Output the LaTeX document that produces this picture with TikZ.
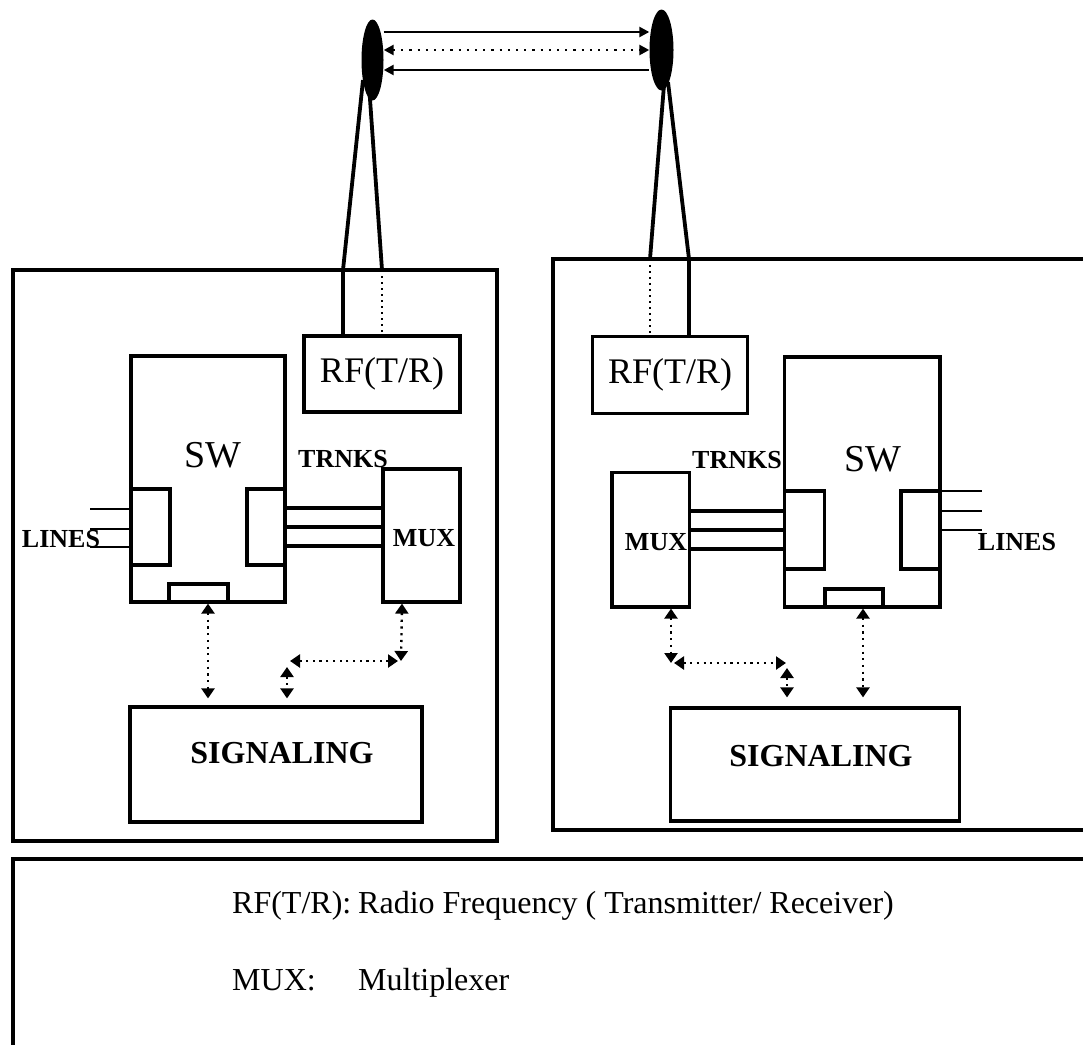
\documentclass[tikz,border=0pt]{standalone}
\usepackage{fontspec}
\setmainfont{Liberation Serif}
\usetikzlibrary{shapes.geometric,arrows.meta}
\begin{document}
\begin{tikzpicture}[x=1pt,y=-1pt,
  frame/.style={draw, line width=3.2pt, inner sep=0pt},
  blk/.style={draw, line width=3.2pt, inner sep=0pt},
  ant/.style={ellipse, fill=black, draw=none, inner sep=0pt},
  leg/.style={line width=3.8pt},
  feed/.style={line width=4.8pt},
  feeddot/.style={line width=2.2pt, dash pattern=on 2pt off 4pt},
  trunk/.style={line width=4.8pt},
  wire/.style={line width=2.8pt},
  link/.style={line width=2.4pt},
  linkdot/.style={line width=2.6pt, dash pattern=on 2.2pt off 6pt},
  sig/.style={line width=2.4pt, dash pattern=on 2.2pt off 4.5pt,
    {Triangle[length=10pt,width=13pt]}-{Triangle[length=10pt,width=13pt]}},
  rftxt/.style={font=\fontsize{36}{40}\selectfont},
  swtxt/.style={font=\fontsize{38}{42}\selectfont, inner sep=0pt},
  captxt/.style={font=\fontsize{26}{28}\selectfont\bfseries, inner sep=0pt},
  sigtxt/.style={font=\fontsize{32}{36}\selectfont\bfseries, inner sep=0pt},
  legtxt/.style={font=\fontsize{32}{36}\selectfont, inner sep=0pt}
]
\useasboundingbox (0,0) rectangle (1083,1044);
\fill[white] (0,0) rectangle (1083,1044);
\clip (0,0) rectangle (1083,1044);

% ---------- antennas and radio link ----------
\node[ant, minimum width=22pt, minimum height=81pt] (antL) at (372.5,60) {};
\node[ant, minimum width=24pt, minimum height=81pt] (antR) at (661.5,50) {};
\coordinate (h1) at (0,32);
\coordinate (h2) at (0,50);
\coordinate (h3) at (0,70);
\draw[link, -{Triangle[length=10pt,width=10pt]}] (antL.east |- h1) -- (antR.west |- h1);
\draw[linkdot, {Triangle[length=10pt,width=10pt]}-{Triangle[length=10pt,width=10pt]}]
  (antL.east |- h2) -- (antR.west |- h2);
\draw[link, {Triangle[length=10pt,width=10pt]}-] (antL.east |- h3) -- (antR.west |- h3);

% ---------- station frames ----------
\node[frame, minimum width=484pt, minimum height=571pt] (outL) at (255,555.5) {};
\node[frame, minimum width=560pt, minimum height=571pt] (outR) at (833,544.5) {};

% ---------- left station ----------
\node[blk, rftxt, inner sep=0pt, minimum width=156pt, minimum height=76pt] (rfL) at (382,374) {RF(T/R)};
\node[blk, minimum width=154pt, minimum height=246pt] (swL) at (208,479) {};
\node[blk, minimum width=39pt, minimum height=76pt] (swLa) at (150.5,527) {};
\node[blk, minimum width=38pt, minimum height=76pt] (swLb) at (266,527) {};
\node[blk, minimum width=59pt, minimum height=18pt] (swLc) at (198.5,593) {};
\node[blk, minimum width=77pt, minimum height=133pt] (muxL) at (421.5,535.5) {};
\node[blk, minimum width=292pt, minimum height=115pt] (sigL) at (276,764.5) {};
\node[swtxt] (swLt) at (213,455) {SW};
\node[captxt] (trL) at (343,459) {TRNKS};
\node[captxt] (muxLt) at (424,538) {MUX};
\node[captxt] (linL) at (61,539) {LINES};
\node[sigtxt] (sigLt) at (282,753) {SIGNALING};

% antenna feeders, left
\coordinate (fL1) at (343,270);
\coordinate (fL2) at (382,270);
\draw[leg] ([xshift=-9.5pt,yshift=-20pt]antL.center) -- (fL1);
\draw[leg] ([xshift=-3.5pt,yshift=-25pt]antL.center) -- (fL2);
\draw[feed] (fL1) -- (fL1 |- rfL.north);
\draw[feeddot] (fL2) -- (fL2 |- rfL.north);

% trunks and subscriber lines, left
\foreach \d in {19,0,-19}
  \draw[trunk] ([yshift=\d pt]swLb.east) -- ([yshift=\d pt]swLb.east -| muxL.west);
\foreach \d in {18,-2,-20}
  \draw[wire] ([yshift=\d pt]swLa.west) -- ++(-39,0);

% signalling paths, left
\coordinate (kL) at (208,0);
\coordinate (kM) at (402,0);
\coordinate (cLa) at (401,661);
\coordinate (cLb) at (290,661);
\coordinate (cLc) at (287,667);
\draw[sig, shorten >=7pt] (kL |- swLc.south) -- (kL |- sigL.north);
\draw[sig] (kM |- muxL.south) -- (cLa);
\draw[sig] ([xshift=-3pt]cLa) -- (cLb);
\draw[sig, shorten >=7pt] (cLc) -- (cLc |- sigL.north);

% ---------- right station ----------
\node[blk, rftxt, inner sep=0pt, minimum width=155pt, minimum height=77pt] (rfR) at (670,375) {RF(T/R)};
\node[blk, minimum width=155.5pt, minimum height=250pt] (swR) at (862.25,482) {};
\node[blk, minimum width=40pt, minimum height=78pt] (swRa) at (804.5,530) {};
\node[blk, minimum width=39pt, minimum height=78pt] (swRb) at (920.5,530) {};
\node[blk, minimum width=58pt, minimum height=18pt] (swRc) at (854,598) {};
\node[blk, minimum width=77.4pt, minimum height=134.6pt] (muxR) at (650.7,539.7) {};
\node[blk, minimum width=289pt, minimum height=113pt] (sigR) at (815,764.5) {};
\node[swtxt] (swRt) at (873,459) {SW};
\node[captxt] (trR) at (737,460) {TRNKS};
\node[captxt] (muxRt) at (656,542) {MUX};
\node[captxt] (linR) at (1017,542) {LINES};
\node[sigtxt] (sigRt) at (821,756) {SIGNALING};

% antenna feeders, right
\coordinate (fR1) at (650,259);
\coordinate (fR2) at (689,259);
\draw[leg] ([xshift=2.5pt,yshift=-35pt]antR.center) -- (fR1);
\draw[leg] ([xshift=6.5pt,yshift=-32pt]antR.center) -- (fR2);
\draw[feeddot] (fR1) -- (fR1 |- rfR.north);
\draw[feed] (fR2) -- (fR2 |- rfR.north);

% trunks and subscriber lines, right
\foreach \d in {19,0,-19}
  \draw[trunk] ([yshift=\d pt]muxR.east |- swRa.west) -- ([yshift=\d pt]swRa.west);
\foreach \d in {39,19,0}
  \draw[wire] ([yshift=\d pt]swRb.east) -- ++(40,0);

% signalling paths, right
\coordinate (kR) at (863,0);
\coordinate (kN) at (671,0);
\coordinate (cRa) at (671,663);
\coordinate (cRb) at (786,663);
\coordinate (cRc) at (787,668);
\draw[sig, shorten >=9pt] (kR |- swRc.south) -- (kR |- sigR.north);
\draw[sig] (kN |- muxR.south) -- (cRa);
\draw[sig] ([xshift=3pt]cRa) -- (cRb);
\draw[sig, shorten >=9pt] (cRc) -- (cRc |- sigR.north);

% ---------- legend ----------
\node[frame, minimum width=1100pt, minimum height=220pt] (legend) at (563,969) {};
\node[legtxt, anchor=base west] (k1) at (232,913) {RF(T/R):};
\node[legtxt, anchor=base west] (v1) at (358,913) {Radio Frequency ( Transmitter/ Receiver)};
\node[legtxt, anchor=base west] (k2) at (232,990) {MUX:};
\node[legtxt, anchor=base west] (v2) at (358,990) {Multiplexer};
\end{tikzpicture}
\end{document}
